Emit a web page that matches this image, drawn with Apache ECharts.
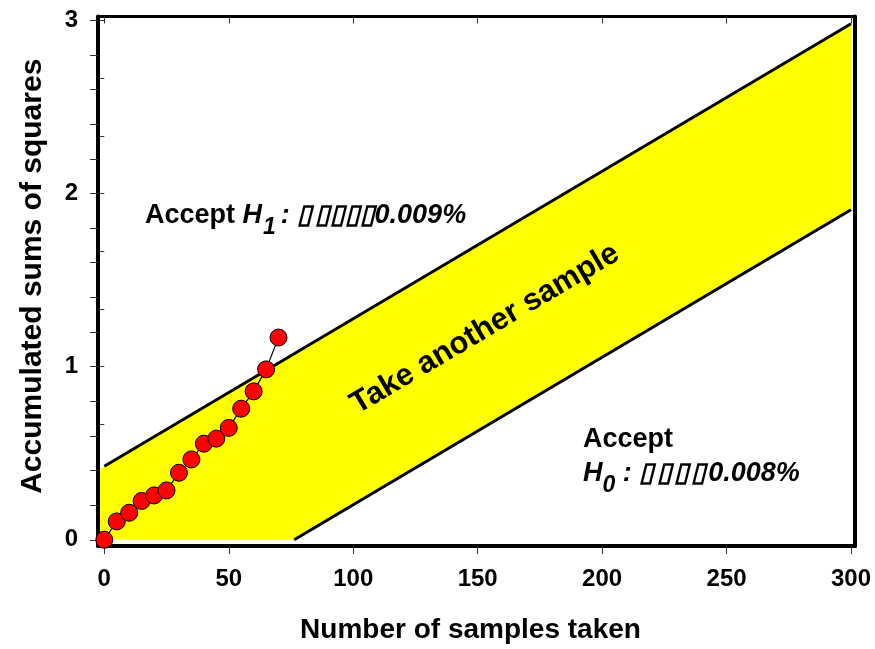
<!DOCTYPE html>
<html>
<head>
<meta charset="utf-8">
<script src="https://cdn.jsdelivr.net/npm/echarts@6/dist/echarts.min.js"></script>
<style>
  html, body { margin: 0; padding: 0; background: #ffffff; }
  #chart { width: 875px; height: 649px; }
</style>
</head>
<body>
<div id="chart"></div>
<script>
// Sequential test: samples taken and the running sum of squares
const sampleCounts = [0, 5, 10, 15, 20, 25, 30, 35, 40, 45, 50, 55, 60, 65, 70];
const sumSquares   = [0.0, 0.106, 0.156, 0.224, 0.256, 0.285, 0.387, 0.464, 0.555, 0.584, 0.646, 0.757, 0.857, 0.984, 1.168];

// Decision boundaries (end points of each line)
const upperN      = [0, 300];
const upperValues = [0.425, 2.98];
const lowerN      = [76.3, 300];
const lowerValues = [0, 1.906];

// Axis ticks and labels
const xTickValues      = [0, 50, 100, 150, 200, 250, 300];
const yLabelValues     = [0, 1, 2, 3];
const yLeftTickValues  = [0, 0.2, 0.4, 0.6, 0.8, 1, 1.2, 1.4, 1.6, 1.8, 2, 2.2, 2.4, 2.6, 2.8, 3];
const yRightTickValues = [0, 0.3333, 0.6667, 1, 1.3333, 1.6667, 2, 2.3333, 2.6667, 3];

const X_MIN = -2.53, X_MAX = 301.6;
const Y_MIN = -0.036, Y_MAX = 3.022;

const FONT = '"Liberation Sans", Arial, Helvetica, sans-serif';
const ANNOT_SIZE = 27;
const SUB_SIZE = 23;

const chart = echarts.init(document.getElementById('chart'), null, { renderer: 'canvas' });

// Lay out a run of text pieces (normal / italic / subscript) left to right
const measureCtx = document.createElement('canvas').getContext('2d');
function textRun(x, baseline, pieces) {
  const out = [];
  let cx = x;
  pieces.forEach(p => {
    const size = p.sub ? SUB_SIZE : ANNOT_SIZE;
    const style = p.italic ? 'italic' : 'normal';
    const font = style + ' bold ' + size + 'px ' + FONT;
    measureCtx.font = font;
    const w = measureCtx.measureText(p.text).width;
    out.push({
      type: 'text',
      x: cx,
      y: baseline + (p.sub ? 10 : 0),
      z: 30,
      silent: true,
      style: { text: p.text, fill: '#000', font: font, textAlign: 'left', textVerticalAlign: 'bottom' }
    });
    cx += w + (p.gap || 0);
  });
  return out;
}

const annotations = []
  .concat(textRun(145, 229, [
    { text: 'Accept ' },
    { text: 'H', italic: true, gap: 1 },
    { text: '1', italic: true, sub: true, gap: 5 },
    { text: ': \u25AF\u200A\u25AF\u25AF\u25AF\u25AF0.009%', italic: true }
  ]))
  .concat(textRun(583, 453, [{ text: 'Accept' }]))
  .concat(textRun(583, 487, [
    { text: 'H', italic: true },
    { text: '0', italic: true, sub: true },
    { text: ' : \u25AF\u200A\u25AF\u200A\u25AF\u200A\u25AF\u200A0.008%', italic: true }
  ]));

annotations.push({
  type: 'text',
  x: 485,
  y: 329,
  rotation: 0.534,
  z: 30,
  silent: true,
  style: {
    text: 'Take another sample',
    fill: '#000',
    font: 'bold 31px ' + FONT,
    textAlign: 'center',
    textVerticalAlign: 'middle'
  }
});

const tickLabelStyle = { color: '#000', fontSize: 24, fontWeight: 'bold', fontFamily: FONT };

const option = {
  backgroundColor: '#ffffff',
  animation: false,
  grid: { left: 98, right: 20, top: 16.5, bottom: 102.5, containLabel: false },
  xAxis: [
    {
      type: 'value', position: 'bottom', min: X_MIN, max: X_MAX, z: 10,
      axisLine: { show: true, onZero: false, lineStyle: { color: '#000', width: 4 } },
      axisTick: { show: true, inside: false, length: 8, customValues: xTickValues, lineStyle: { color: '#333', width: 1 } },
      axisLabel: Object.assign({ customValues: xTickValues, margin: 21 }, tickLabelStyle),
      splitLine: { show: false },
      name: 'Number of samples taken', nameLocation: 'middle', nameGap: 70,
      nameTextStyle: { color: '#000', fontSize: 28, fontWeight: 'bold', fontFamily: FONT, padding: [0, 12, 0, 0] }
    },
    {
      type: 'value', position: 'top', min: X_MIN, max: X_MAX, z: 10,
      axisLine: { show: true, onZero: false, lineStyle: { color: '#000', width: 3 } },
      axisTick: { show: true, inside: true, length: 7, customValues: xTickValues, lineStyle: { color: '#333', width: 1 } },
      axisLabel: { show: false },
      splitLine: { show: false }
    }
  ],
  yAxis: [
    {
      type: 'value', position: 'left', min: Y_MIN, max: Y_MAX, z: 10,
      axisLine: { show: true, onZero: false, lineStyle: { color: '#000', width: 4 } },
      axisTick: { show: true, inside: false, length: 8, customValues: yLeftTickValues, lineStyle: { color: '#333', width: 1 } },
      axisLabel: Object.assign({ customValues: yLabelValues, margin: 20 }, tickLabelStyle),
      splitLine: { show: false },
      name: 'Accumulated sums of squares', nameLocation: 'middle', nameGap: 50,
      nameRotate: 90,
      nameTextStyle: { color: '#000', fontSize: 30, fontWeight: 'bold', fontFamily: FONT, padding: [0, 0, 0, 10] }
    },
    {
      // right-hand ticks sit under the shaded band
      type: 'value', position: 'right', min: Y_MIN, max: Y_MAX, z: 0,
      axisLine: { show: false },
      axisTick: { show: true, inside: true, length: 7, customValues: yRightTickValues, lineStyle: { color: '#333', width: 1 } },
      axisLabel: { show: false },
      splitLine: { show: false }
    },
    {
      // right-hand frame edge drawn above the band
      type: 'value', position: 'right', min: Y_MIN, max: Y_MAX, z: 10,
      axisLine: { show: true, onZero: false, lineStyle: { color: '#000', width: 4 } },
      axisTick: { show: false },
      axisLabel: { show: false },
      splitLine: { show: false }
    }
  ],
  series: [
    {
      // "take another sample" band between the two boundaries, down to zero
      type: 'custom',
      xAxisIndex: 0, yAxisIndex: 0,
      clip: true, silent: true, z: 1,
      data: [[upperN[0], upperValues[0]]],
      renderItem: function (params, api) {
        const slope = (upperValues[1] - upperValues[0]) / (upperN[1] - upperN[0]);
        const leftN = X_MIN + 0.8;
        const pts = [
          api.coord([leftN, upperValues[0] + slope * (leftN - upperN[0])]),
          api.coord([upperN[1], upperValues[1]]),
          api.coord([lowerN[1], lowerValues[1]]),
          api.coord([lowerN[0], lowerValues[0]]),
          api.coord([leftN, 0])
        ];
        return { type: 'polygon', shape: { points: pts }, style: { fill: '#ffff00' } };
      }
    },
    {
      type: 'line', xAxisIndex: 0, yAxisIndex: 0, z: 3, silent: true,
      symbol: 'none', clip: true,
      data: upperN.map((n, i) => [n, upperValues[i]]),
      lineStyle: { color: '#000', width: 3 }
    },
    {
      type: 'line', xAxisIndex: 0, yAxisIndex: 0, z: 3, silent: true,
      symbol: 'none', clip: true,
      data: lowerN.map((n, i) => [n, lowerValues[i]]),
      lineStyle: { color: '#000', width: 3 }
    },
    {
      type: 'line', xAxisIndex: 0, yAxisIndex: 0, z: 20, clip: false,
      data: sampleCounts.map((n, i) => [n, sumSquares[i]]),
      symbol: 'circle', symbolSize: 17, showAllSymbol: true,
      lineStyle: { color: '#000', width: 1.2 },
      itemStyle: { color: '#ff0000', borderColor: '#000', borderWidth: 1 }
    }
  ],
  graphic: annotations
};

chart.setOption(option);
</script>
</body>
</html>
